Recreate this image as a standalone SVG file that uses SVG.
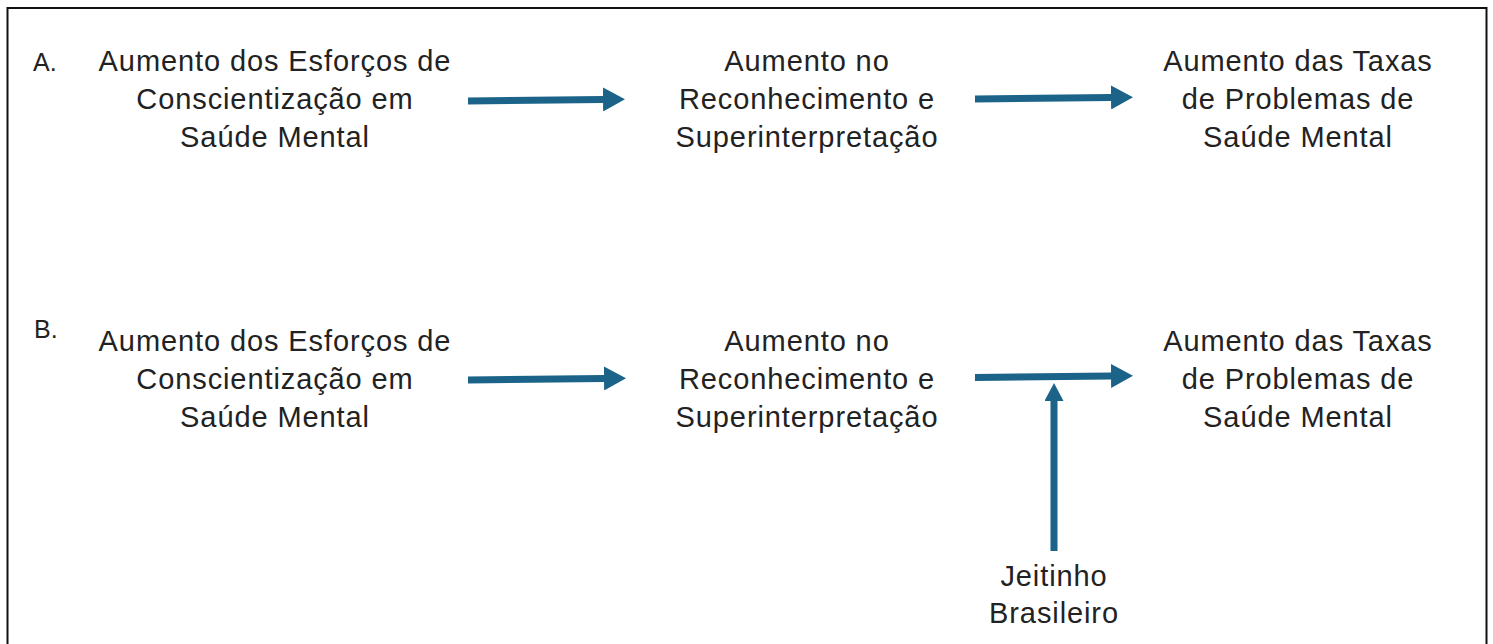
<svg xmlns="http://www.w3.org/2000/svg" width="1493" height="644" viewBox="0 0 1493 644">
<style>
.t{font-family:"Liberation Sans",Arial,sans-serif;font-size:29px;fill:#222;text-anchor:middle;letter-spacing:0.9px}
.lbl{font-family:"Liberation Sans",Arial,sans-serif;font-size:25px;fill:#222}
.c{stroke:#1b6389;stroke-width:7;fill:none}
</style>
<defs>
<marker id="head" markerUnits="userSpaceOnUse" markerWidth="23" markerHeight="24" refX="0" refY="12" orient="auto">
<path d="M0,0 L22,12 L0,24 Z" fill="#1b6389"/>
</marker>
<marker id="headS" markerUnits="userSpaceOnUse" markerWidth="19" markerHeight="20" refX="0" refY="9.5" orient="auto">
<path d="M0,0 L18,9.5 L0,19 Z" fill="#1b6389"/>
</marker>
</defs>
<rect x="7.5" y="8" width="1479" height="660" fill="#fff" stroke="#111" stroke-width="2"/>
<g id="labels">
<text class="lbl" x="33" y="71">A.</text>
<text class="lbl" x="34" y="338">B.</text>
</g>
<g id="A1"><text class="t" x="275" y="71">Aumento dos Esforços de</text><text class="t" x="275" y="109">Conscientização em</text><text class="t" x="275" y="147">Saúde Mental</text></g>
<g id="A2"><text class="t" x="807" y="71">Aumento no</text><text class="t" x="807" y="109">Reconhecimento e</text><text class="t" x="807" y="147">Superinterpretação</text></g>
<g id="A3"><text class="t" x="1298" y="71">Aumento das Taxas</text><text class="t" x="1298" y="109">de Problemas de</text><text class="t" x="1298" y="147">Saúde Mental</text></g>
<g id="B1"><text class="t" x="275" y="351">Aumento dos Esforços de</text><text class="t" x="275" y="389">Conscientização em</text><text class="t" x="275" y="427">Saúde Mental</text></g>
<g id="B2"><text class="t" x="807" y="351">Aumento no</text><text class="t" x="807" y="389">Reconhecimento e</text><text class="t" x="807" y="427">Superinterpretação</text></g>
<g id="B3"><text class="t" x="1298" y="351">Aumento das Taxas</text><text class="t" x="1298" y="389">de Problemas de</text><text class="t" x="1298" y="427">Saúde Mental</text></g>
<g id="B4"><text class="t" x="1054" y="586">Jeitinho</text><text class="t" x="1054" y="623">Brasileiro</text></g>
<g id="connectors">
<line class="c" x1="468" y1="101" x2="603" y2="99.5" marker-end="url(#head)"/>
<line class="c" x1="975" y1="99" x2="1111" y2="97.5" marker-end="url(#head)"/>
<line class="c" x1="468" y1="380" x2="604" y2="378.5" marker-end="url(#head)"/>
<line class="c" x1="975" y1="377.5" x2="1111" y2="376" marker-end="url(#head)"/>
<line class="c" x1="1054" y1="551" x2="1054" y2="401" marker-end="url(#headS)"/>
</g>
</svg>
